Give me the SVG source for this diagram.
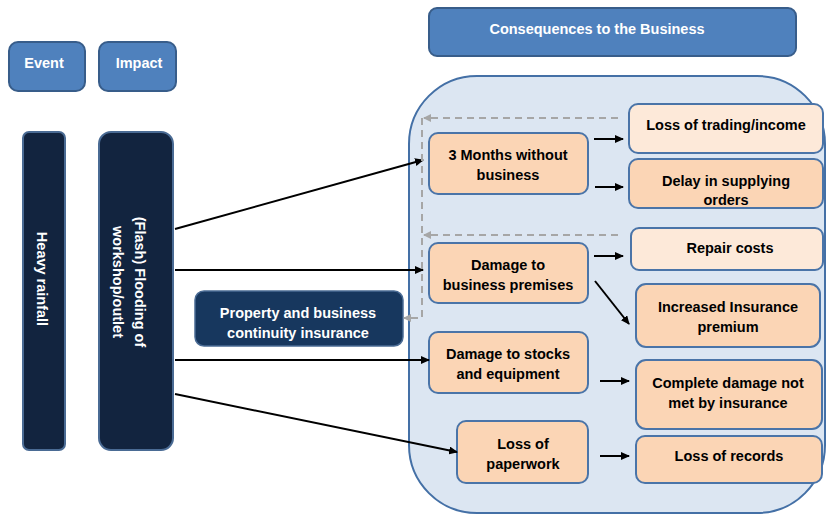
<svg xmlns="http://www.w3.org/2000/svg" width="828" height="517" viewBox="0 0 828 517">
<defs>
<style>
text{font-family:"Liberation Sans",Arial,sans-serif;font-weight:bold;font-size:14.5px;text-anchor:middle}
.w{fill:#ffffff}
.k{fill:#000000}
.hdr{fill:#4F81BD;stroke:#385D8A;stroke-width:2}
.dark{fill:#12243F;stroke:#4A6B94;stroke-width:2}
.ins{fill:#17375E;stroke:#4A6B94;stroke-width:1.5}
.cont{fill:#DCE6F2;stroke:#4470A6;stroke-width:2}
.or{fill:#FBD5B5;stroke:#4A74A8;stroke-width:2}
.lt{fill:#FDE9D9;stroke:#4A74A8;stroke-width:2}
.ar{stroke:#000;stroke-width:2;fill:none;marker-end:url(#ah)}
.da{stroke:#A6A6A6;stroke-width:2;fill:none;stroke-dasharray:7 5}
.dh{stroke:#A6A6A6;stroke-width:2;fill:none;marker-end:url(#gh)}
</style>
<marker id="ah" markerWidth="9" markerHeight="8" refX="8" refY="4" orient="auto" markerUnits="userSpaceOnUse">
<path d="M0,0 L9,4 L0,8 Z" fill="#000"/>
</marker>
<marker id="gh" markerWidth="8" markerHeight="8" refX="7" refY="4" orient="auto" markerUnits="userSpaceOnUse">
<path d="M0,0 L8,4 L0,8 Z" fill="#A6A6A6"/>
</marker>
</defs>

<g id="event"><rect class="hdr" x="9" y="42" width="76" height="49" rx="9"/><text class="w" x="44" y="68">Event</text></g>
<g id="impact"><rect class="hdr" x="99" y="42" width="77" height="49" rx="9"/><text class="w" x="139" y="68">Impact</text></g>
<g id="consequences"><rect class="hdr" x="429" y="8" width="367" height="48" rx="8"/><text class="w" x="597" y="34">Consequences to the Business</text></g>

<g id="heavy-rainfall"><rect class="dark" x="23" y="132" width="42" height="318" rx="6"/>
<text class="w" transform="translate(42,279) rotate(90)" x="0" y="5">Heavy rainfall</text></g>
<g id="flooding"><rect class="dark" x="99" y="132" width="74" height="318" rx="12"/>
<g transform="translate(129,282) rotate(90)"><text class="w" x="0" y="-6">(Flash) Flooding of</text><text class="w" x="0" y="16">workshop/outlet</text></g></g>

<g id="container"><rect class="cont" x="409" y="76" width="416" height="437" rx="68"/></g>

<g id="insurance"><rect class="ins" x="195" y="291" width="208" height="55" rx="9"/>
<text class="w" x="298" y="318">Property and business</text><text class="w" x="298" y="338">continuity insurance</text></g>

<g id="three-months"><rect class="or" x="429" y="133" width="159" height="61" rx="9"/>
<text class="k" x="508" y="160">3 Months without</text><text class="k" x="508" y="180">business</text></g>
<g id="loss-trading"><rect class="lt" x="629" y="104" width="194" height="49" rx="9"/>
<text class="k" x="726" y="130">Loss of trading/income</text></g>
<g id="delay"><rect class="or" x="629" y="159" width="194" height="49" rx="9"/>
<text class="k" x="726" y="186">Delay in supplying</text><text class="k" x="726" y="205">orders</text></g>
<g id="damage-premises"><rect class="or" x="429" y="243" width="159" height="60" rx="9"/>
<text class="k" x="508" y="270">Damage to</text><text class="k" x="508" y="290">business premises</text></g>
<g id="repair"><rect class="lt" x="631" y="228" width="192" height="42" rx="8"/>
<text class="k" x="730" y="253">Repair costs</text></g>
<g id="insurance-premium"><rect class="or" x="636" y="284" width="184" height="63" rx="10"/>
<text class="k" x="728" y="312">Increased Insurance</text><text class="k" x="728" y="332">premium</text></g>
<g id="damage-stocks"><rect class="or" x="429" y="332" width="159" height="61" rx="9"/>
<text class="k" x="508" y="359">Damage to stocks</text><text class="k" x="508" y="379">and equipment</text></g>
<g id="complete-damage"><rect class="or" x="636" y="360" width="186" height="69" rx="10"/>
<text class="k" x="728" y="388">Complete damage not</text><text class="k" x="728" y="408">met by insurance</text></g>
<g id="loss-paperwork"><rect class="or" x="457" y="421" width="131" height="62" rx="9"/>
<text class="k" x="523" y="449">Loss of</text><text class="k" x="523" y="469">paperwork</text></g>
<g id="loss-records"><rect class="or" x="636" y="436" width="186" height="47" rx="9"/>
<text class="k" x="729" y="461">Loss of records</text></g>

<g id="connectors">
<path class="ar" d="M175,229 L423,160"/>
<path class="ar" d="M175,270 L423,270"/>
<path class="ar" d="M175,360 L429,360"/>
<path class="ar" d="M175,394 L457,452"/>
<path class="ar" d="M594,139 L623,139"/>
<path class="ar" d="M595,187 L623,187"/>
<path class="ar" d="M594,256 L623,256"/>
<path class="ar" d="M595,281 L629,324"/>
<path class="ar" d="M600,381 L629,381"/>
<path class="ar" d="M600,456 L629,456"/>
<path class="da" d="M618,118 L431,118"/>
<path class="dh" d="M432,118 L424,118"/>
<path class="da" d="M618,235 L431,235"/>
<path class="dh" d="M432,235 L424,235"/>
<path class="da" d="M422,118 L422,318 L412,318"/>
<path class="dh" d="M412,318 L404,318"/>
</g>
</svg>
